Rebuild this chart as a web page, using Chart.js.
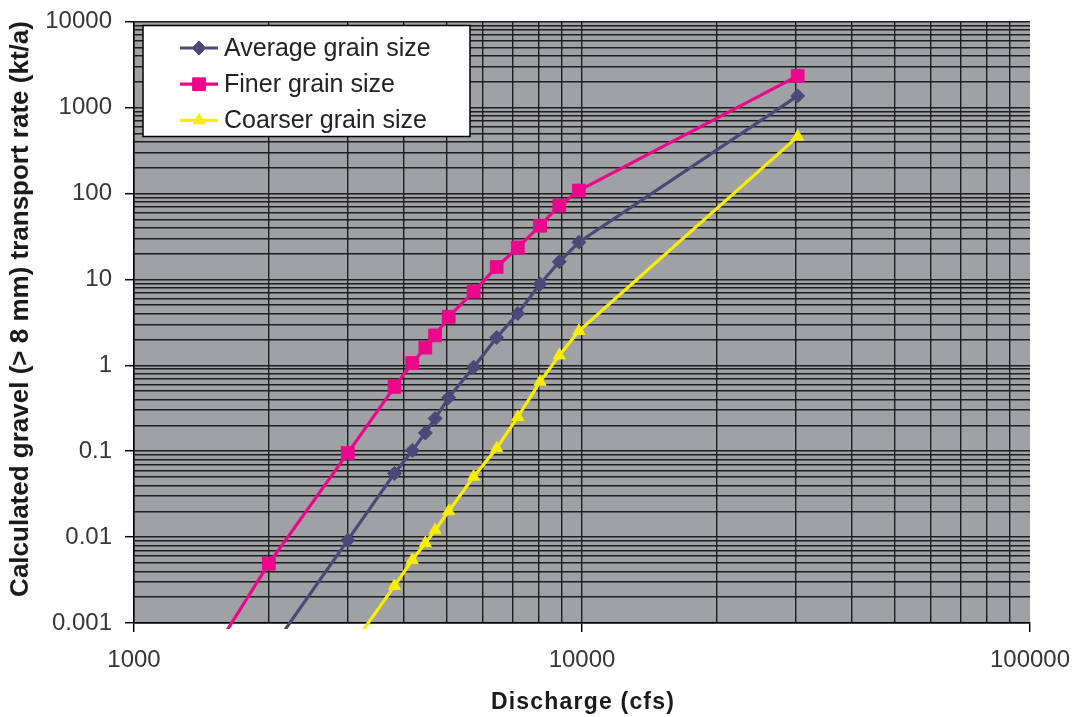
<!DOCTYPE html>
<html>
<head>
<meta charset="utf-8">
<script src="https://cdn.jsdelivr.net/npm/chart.js@4.4.1/dist/chart.umd.min.js"></script>
<style>
  html, body { margin: 0; padding: 0; background: #ffffff; overflow: hidden; }
  #wrap { width: 1076px; height: 717px; }
</style>
</head>
<body>
<div id="wrap"><canvas id="chart" width="1076" height="717"></canvas></div>
<script>
// Discharge (cfs) at which the transport rates were calculated
const discharge = [1500, 2000, 3000, 3815, 4180, 4470, 4700, 5040, 5730, 6450, 7190, 8060, 8900, 9840, 30300];

// Calculated gravel (> 8 mm) transport rate, kt/a (null = not calculated)
const averageRate = [null, 0.00045, 0.0092, 0.055, 0.102, 0.163, 0.24, 0.42, 0.95, 2.1, 4.0, 8.8, 16.0, 27, 1360];
const finerRate   = [0.00045, 0.0049, 0.095, 0.56, 1.06, 1.6, 2.22, 3.66, 7.2, 13.9, 23.4, 42, 72, 108, 2330];
const coarserRate = [null, null, 0.00046, 0.0027, 0.0054, 0.0085, 0.012, 0.020, 0.0505, 0.108, 0.25, 0.64, 1.30, 2.5, 457];

const seriesNames = ['Average grain size', 'Finer grain size', 'Coarser grain size'];
const xTickLabels = ['1000', '10000', '100000'];
const yTickLabels = ['0.001', '0.01', '0.1', '1', '10', '100', '1000', '10000'];
const xTitle = 'Discharge (cfs)';
const yTitle = 'Calculated gravel (> 8 mm) transport rate (kt/a)';

const FONT = "'Liberation Sans', Arial, Helvetica, sans-serif";

function toPoints(values) {
  const pts = [];
  values.forEach((v, i) => { if (v !== null) pts.push({ x: discharge[i], y: v }); });
  return pts;
}

function isDecade(v) {
  const l = Math.log10(v);
  return Math.abs(l - Math.round(l)) < 1e-6;
}

// log-scale ticks at 1..9 x 10^n so every minor gridline is drawn
function logTicks(labels) {
  const vals = labels.map(Number);
  const ticks = [];
  for (let d = 0; d < vals.length - 1; d++) {
    for (let m = 1; m < 10; m++) ticks.push({ value: Number((m * vals[d]).toPrecision(6)) });
  }
  ticks.push({ value: vals[vals.length - 1] });
  return ticks;
}

function labelFor(labels, value) {
  if (!isDecade(value)) return '';
  const hit = labels.find(s => Math.abs(Number(s) - value) / value < 1e-6);
  return hit === undefined ? '' : hit;
}

// grey plotting surface behind the gridlines
const plotBackground = {
  id: 'plotBackground',
  beforeDraw(chart) {
    const a = chart.chartArea, ctx = chart.ctx;
    ctx.save();
    ctx.fillStyle = '#a0a1a5';
    ctx.fillRect(a.left, a.top, a.right - a.left, a.bottom - a.top);
    ctx.restore();
  }
};

// boxed legend in the upper-left of the plot plus the two axis titles
const boxLegendAndTitles = {
  id: 'boxLegendAndTitles',
  afterDraw(chart) {
    const ctx = chart.ctx, a = chart.chartArea;
    ctx.save();

    const x0 = a.left + 9, y0 = a.top + 4, w = 327, h = 111;
    ctx.fillStyle = '#ffffff';
    ctx.fillRect(x0, y0, w, h);
    ctx.strokeStyle = '#000000';
    ctx.lineWidth = 1.5;
    ctx.strokeRect(x0, y0, w, h);

    chart.data.datasets.forEach((ds, i) => {
      const cy = y0 + 22.5 + i * 36.2;
      ctx.strokeStyle = ds.borderColor;
      ctx.lineWidth = ds.borderWidth;
      ctx.beginPath();
      ctx.moveTo(x0 + 37, cy);
      ctx.lineTo(x0 + 75, cy);
      ctx.stroke();
      ctx.fillStyle = ds.backgroundColor;
      ctx.lineWidth = 1;
      Chart.helpers.drawPoint(ctx, { pointStyle: ds.pointStyle, radius: ds.pointRadius, rotation: 0, borderWidth: 1 }, x0 + 56, cy);
      ctx.fillStyle = '#222222';
      ctx.font = '25px ' + FONT;
      ctx.textAlign = 'left';
      ctx.textBaseline = 'middle';
      ctx.fillText(ds.label, x0 + 81, cy + 1);
    });

    // x-axis title
    ctx.fillStyle = '#1a1a1a';
    ctx.font = 'bold 23px ' + FONT;
    ctx.textAlign = 'center';
    ctx.textBaseline = 'middle';
    if ('letterSpacing' in ctx) ctx.letterSpacing = '1.2px';
    ctx.fillText(xTitle, (a.left + a.right) / 2 + 1, 703);
    if ('letterSpacing' in ctx) ctx.letterSpacing = '0px';

    // y-axis title
    ctx.translate(21, 309);
    ctx.rotate(-Math.PI / 2);
    ctx.font = 'bold 26px ' + FONT;
    ctx.fillText(yTitle, 0, 0);
    ctx.restore();
  }
};

const gridColor = '#1e1e1e';
const lineClip = { left: 0, top: 0, right: 0, bottom: 6 };

new Chart(document.getElementById('chart'), {
  type: 'line',
  data: {
    datasets: [
      {
        label: seriesNames[0], data: toPoints(averageRate),
        borderColor: '#4c4978', backgroundColor: '#4c4978',
        pointStyle: 'rectRot', pointRadius: 7, borderWidth: 3.2, pointBorderWidth: 1,
        tension: 0, clip: lineClip
      },
      {
        label: seriesNames[1], data: toPoints(finerRate),
        borderColor: '#ec068c', backgroundColor: '#ec068c',
        pointStyle: 'rect', pointRadius: 9, borderWidth: 3.2, pointBorderWidth: 1,
        tension: 0, clip: lineClip
      },
      {
        label: seriesNames[2], data: toPoints(coarserRate),
        borderColor: '#f8ee00', backgroundColor: '#f8ee00',
        pointStyle: 'triangle', pointRadius: 7, borderWidth: 3.2, pointBorderWidth: 1,
        tension: 0, clip: lineClip
      }
    ]
  },
  options: {
    responsive: false,
    animation: false,
    events: [],
    layout: { padding: { top: 21.5, right: 46, left: 0, bottom: 0 } },
    plugins: { legend: { display: false }, tooltip: { enabled: false }, title: { display: false } },
    scales: {
      x: {
        type: 'logarithmic',
        min: Number(xTickLabels[0]),
        max: Number(xTickLabels[xTickLabels.length - 1]),
        afterBuildTicks: s => { s.ticks = logTicks(xTickLabels); },
        afterFit: s => { s.height = 94; s.paddingLeft = 0; s.paddingRight = 0; },
        border: { display: true, color: '#000000', width: 1.5 },
        grid: {
          color: c => (c.tick && c.tick.value >= Number(xTickLabels[xTickLabels.length - 1])) ? 'rgba(0,0,0,0)' : gridColor,
          lineWidth: 1.4,
          drawTicks: true,
          tickLength: 9,
          tickWidth: 1.5,
          tickColor: c => (c.tick && isDecade(c.tick.value)) ? '#000000' : 'rgba(0,0,0,0)'
        },
        ticks: {
          autoSkip: false, maxRotation: 0, minRotation: 0, padding: 14,
          color: '#363636', font: { family: FONT, size: 24 },
          callback: v => labelFor(xTickLabels, v)
        }
      },
      y: {
        type: 'logarithmic',
        min: Number(yTickLabels[0]),
        max: Number(yTickLabels[yTickLabels.length - 1]),
        afterBuildTicks: s => { s.ticks = logTicks(yTickLabels); },
        afterFit: s => { s.width = 134; s.paddingTop = 0; s.paddingBottom = 0; },
        border: { display: true, color: '#000000', width: 1.5 },
        grid: {
          color: gridColor,
          lineWidth: 1.4,
          drawTicks: true,
          tickLength: 9,
          tickWidth: 1.5,
          tickColor: c => (c.tick && isDecade(c.tick.value)) ? '#000000' : 'rgba(0,0,0,0)'
        },
        ticks: {
          autoSkip: false, padding: 13,
          color: '#363636', font: { family: FONT, size: 24 },
          callback: v => labelFor(yTickLabels, v)
        }
      }
    }
  },
  plugins: [plotBackground, boxLegendAndTitles]
});
</script>
</body>
</html>
